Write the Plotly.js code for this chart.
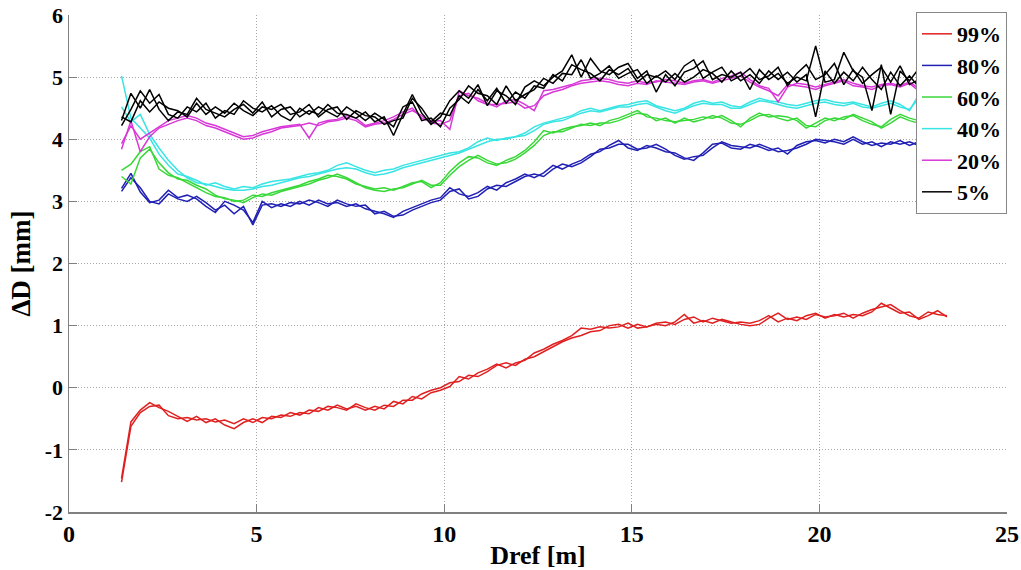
<!DOCTYPE html>
<html>
<head>
<meta charset="utf-8">
<script src="https://cdn.plot.ly/plotly-3.0.1.min.js"></script>
<style>html,body{margin:0;padding:0;background:#fff;}#chart{width:1021px;height:570px;}</style>
</head>
<body>
<div id="chart"></div>
<script>
// Dref sample positions [m]
const dref = [1.40,1.65,1.90,2.15,2.40,2.65,2.90,3.15,3.40,3.65,3.90,4.15,4.40,4.65,4.90,5.15,5.40,5.65,5.90,6.15,6.40,6.65,6.90,7.15,7.40,7.65,7.90,8.15,8.40,8.65,8.90,9.15,9.40,9.65,9.90,10.15,10.40,10.65,10.90,11.15,11.40,11.65,11.90,12.15,12.40,12.65,12.90,13.15,13.40,13.65,13.90,14.15,14.40,14.65,14.90,15.15,15.40,15.65,15.90,16.15,16.40,16.65,16.90,17.15,17.40,17.65,17.90,18.15,18.40,18.65,18.90,19.15,19.40,19.65,19.90,20.15,20.40,20.65,20.90,21.15,21.40,21.65,21.90,22.15,22.40,22.65];
const drefRed = [1.40,1.65,1.90,2.15,2.40,2.65,2.90,3.15,3.40,3.65,3.90,4.15,4.40,4.65,4.90,5.15,5.40,5.65,5.90,6.15,6.40,6.65,6.90,7.15,7.40,7.65,7.90,8.15,8.40,8.65,8.90,9.15,9.40,9.65,9.90,10.15,10.40,10.65,10.90,11.15,11.40,11.65,11.90,12.15,12.40,12.65,12.90,13.15,13.40,13.65,13.90,14.15,14.40,14.65,14.90,15.15,15.40,15.65,15.90,16.15,16.40,16.65,16.90,17.15,17.40,17.65,17.90,18.15,18.40,18.65,18.90,19.15,19.40,19.65,19.90,20.15,20.40,20.65,20.90,21.15,21.40,21.65,21.90,22.15,22.40,22.65,22.90,23.15,23.40];

const seriesNames = ["99%","80%","60%","40%","20%","5%"];

const red99a = [-1.52,-0.62,-0.40,-0.30,-0.28,-0.45,-0.50,-0.48,-0.52,-0.50,-0.55,-0.52,-0.58,-0.50,-0.56,-0.48,-0.50,-0.44,-0.46,-0.40,-0.42,-0.32,-0.36,-0.28,-0.34,-0.30,-0.36,-0.30,-0.34,-0.22,-0.26,-0.14,-0.18,-0.08,-0.04,0.02,0.18,0.14,0.24,0.30,0.38,0.32,0.40,0.44,0.56,0.62,0.70,0.76,0.84,0.96,0.94,0.98,0.96,0.98,1.04,0.96,0.98,1.02,1.00,1.06,1.18,1.04,1.08,1.04,1.10,1.06,1.02,1.00,1.02,1.12,1.20,1.10,1.14,1.10,1.18,1.14,1.16,1.20,1.12,1.20,1.26,1.30,1.34,1.24,1.16,1.12,1.22,1.18,1.16];
const red99b = [-1.46,-0.55,-0.36,-0.24,-0.32,-0.38,-0.46,-0.54,-0.46,-0.56,-0.50,-0.60,-0.66,-0.56,-0.50,-0.56,-0.46,-0.48,-0.40,-0.44,-0.36,-0.38,-0.30,-0.32,-0.36,-0.26,-0.32,-0.36,-0.28,-0.30,-0.20,-0.20,-0.10,-0.04,0.00,0.08,0.10,0.20,0.18,0.26,0.36,0.40,0.36,0.46,0.50,0.58,0.66,0.74,0.80,0.84,0.90,0.92,1.00,1.02,0.96,1.02,0.98,1.04,1.06,1.02,1.10,1.14,1.06,1.12,1.08,1.04,1.06,1.04,1.08,1.16,1.06,1.12,1.08,1.16,1.20,1.12,1.18,1.14,1.18,1.16,1.22,1.36,1.28,1.20,1.22,1.10,1.16,1.24,1.14];

const blue80a = [3.21,3.45,3.15,2.98,3.02,3.18,3.06,3.10,3.04,2.92,2.82,3.00,2.94,2.86,2.66,3.00,2.90,2.96,2.92,3.00,2.94,3.02,2.96,2.98,2.92,2.96,2.88,2.84,2.80,2.74,2.84,2.90,2.96,3.02,3.06,3.22,3.12,3.08,3.14,3.24,3.18,3.30,3.36,3.44,3.38,3.46,3.58,3.52,3.60,3.66,3.76,3.80,3.90,3.98,3.86,3.82,3.90,3.86,3.80,3.78,3.70,3.66,3.78,3.92,3.94,3.86,3.84,3.92,3.88,3.82,3.86,3.76,3.90,3.96,3.98,3.94,4.00,3.96,4.04,3.96,3.90,3.94,3.92,3.98,3.90,3.96];
const blue80b = [3.16,3.38,3.22,3.00,2.96,3.12,3.04,3.00,3.08,2.98,2.86,2.94,2.80,2.92,2.62,2.94,2.96,2.92,2.98,2.96,3.02,2.98,2.92,3.02,2.96,2.92,2.94,2.80,2.84,2.76,2.78,2.86,2.92,2.98,3.02,3.16,3.20,3.04,3.08,3.20,3.26,3.24,3.32,3.40,3.44,3.40,3.52,3.60,3.56,3.62,3.72,3.84,3.86,3.92,3.92,3.84,3.86,3.92,3.84,3.74,3.68,3.72,3.74,3.86,3.96,3.90,3.88,3.86,3.92,3.86,3.80,3.82,3.86,3.92,4.00,3.98,3.96,3.92,4.00,3.92,3.96,3.88,3.96,3.92,3.96,3.90];

const green60a = [3.50,3.60,3.80,3.88,3.52,3.42,3.38,3.30,3.22,3.14,3.08,3.06,3.00,3.02,3.10,3.08,3.14,3.18,3.22,3.26,3.32,3.36,3.42,3.40,3.36,3.28,3.24,3.20,3.22,3.18,3.24,3.30,3.32,3.22,3.30,3.48,3.62,3.72,3.70,3.62,3.58,3.66,3.72,3.82,3.96,4.14,4.10,4.16,4.20,4.22,4.26,4.22,4.30,4.34,4.40,4.46,4.36,4.34,4.30,4.28,4.30,4.32,4.36,4.34,4.38,4.30,4.20,4.34,4.42,4.36,4.38,4.36,4.30,4.18,4.26,4.34,4.30,4.36,4.38,4.30,4.24,4.20,4.32,4.40,4.34,4.30];
const green60b = [3.40,3.28,3.70,3.84,3.62,3.46,3.36,3.34,3.26,3.20,3.10,3.04,3.02,2.98,3.06,3.12,3.10,3.16,3.20,3.24,3.28,3.34,3.38,3.44,3.38,3.30,3.22,3.18,3.16,3.20,3.22,3.28,3.34,3.26,3.26,3.42,3.56,3.66,3.74,3.66,3.60,3.62,3.68,3.78,3.90,4.06,4.12,4.12,4.18,4.24,4.22,4.26,4.26,4.30,4.36,4.42,4.40,4.30,4.34,4.26,4.34,4.28,4.32,4.38,4.34,4.26,4.24,4.30,4.38,4.40,4.34,4.30,4.34,4.22,4.20,4.30,4.34,4.32,4.40,4.34,4.28,4.18,4.26,4.36,4.30,4.26];

const cyan40a = [5.02,4.34,4.18,4.02,3.76,3.58,3.44,3.40,3.34,3.26,3.30,3.24,3.20,3.24,3.22,3.28,3.32,3.34,3.36,3.40,3.44,3.46,3.50,3.58,3.62,3.56,3.50,3.46,3.50,3.52,3.58,3.62,3.66,3.70,3.74,3.78,3.80,3.86,3.96,4.02,3.98,4.02,4.04,4.10,4.20,4.26,4.30,4.34,4.38,4.46,4.50,4.46,4.50,4.54,4.56,4.60,4.62,4.54,4.50,4.46,4.50,4.58,4.62,4.58,4.60,4.54,4.52,4.60,4.66,4.62,4.60,4.56,4.54,4.58,4.62,4.64,4.60,4.58,4.60,4.56,4.52,4.58,4.62,4.56,4.46,4.72];
const cyan40b = [4.52,4.28,4.40,4.08,3.86,3.66,3.50,3.38,3.30,3.28,3.24,3.20,3.18,3.18,3.20,3.24,3.26,3.30,3.34,3.38,3.40,3.44,3.48,3.52,3.54,3.52,3.46,3.42,3.44,3.48,3.54,3.58,3.62,3.66,3.70,3.74,3.78,3.84,3.90,3.96,4.00,4.00,4.04,4.06,4.14,4.24,4.28,4.30,4.36,4.42,4.46,4.44,4.48,4.52,4.52,4.56,4.58,4.52,4.46,4.42,4.48,4.54,4.58,4.56,4.56,4.50,4.50,4.56,4.62,4.60,4.56,4.52,4.50,4.54,4.58,4.60,4.56,4.54,4.58,4.52,4.50,4.54,4.58,4.52,4.48,4.66];

const mag20a = [3.93,4.22,4.00,4.10,4.20,4.30,4.34,4.38,4.34,4.26,4.22,4.16,4.10,4.04,4.06,4.12,4.16,4.20,4.22,4.24,4.02,4.26,4.30,4.32,4.38,4.34,4.22,4.26,4.30,4.36,4.44,4.50,4.34,4.28,4.30,4.16,4.78,4.70,4.66,4.58,4.52,4.62,4.64,4.56,4.46,4.78,4.80,4.84,4.88,4.94,4.96,4.98,4.96,4.92,4.90,4.94,4.90,4.92,4.96,4.94,4.90,4.94,4.96,4.92,4.98,5.02,5.08,4.96,4.86,4.82,4.60,4.84,4.90,4.88,4.84,4.88,4.92,4.96,4.90,4.86,4.84,4.88,4.90,4.86,4.92,4.82];
const mag20b = [3.84,4.30,3.80,4.04,4.18,4.24,4.30,4.34,4.30,4.22,4.18,4.12,4.06,4.00,4.02,4.08,4.12,4.18,4.20,4.22,4.26,4.22,4.28,4.30,4.34,4.30,4.20,4.24,4.26,4.32,4.40,4.46,4.38,4.26,4.24,4.30,4.70,4.74,4.62,4.56,4.56,4.58,4.60,4.50,4.54,4.70,4.76,4.80,4.86,4.90,4.92,4.94,4.92,4.88,4.86,4.90,4.88,4.94,4.92,4.90,4.88,4.92,4.94,4.90,4.94,4.98,5.02,4.92,4.84,4.78,4.70,4.88,4.86,4.84,4.80,4.86,4.90,4.94,4.86,4.84,4.80,4.86,4.88,4.84,4.90,4.78];

const blk5a = [4.30,4.74,4.50,4.80,4.48,4.30,4.44,4.40,4.66,4.48,4.42,4.36,4.48,4.56,4.42,4.60,4.36,4.48,4.52,4.36,4.46,4.40,4.56,4.42,4.40,4.34,4.44,4.28,4.36,4.06,4.40,4.72,4.42,4.24,4.36,4.62,4.78,4.66,4.88,4.54,4.78,4.70,4.56,4.84,4.94,4.86,5.00,5.10,5.36,5.00,5.30,5.10,5.04,5.16,5.22,4.98,5.10,4.76,5.04,4.86,5.08,5.14,5.26,4.96,5.04,5.00,5.08,4.80,5.12,4.96,5.06,4.90,5.00,4.94,5.50,4.92,4.96,5.40,5.10,5.00,4.46,5.20,4.40,5.10,4.94,5.14];
const blk5b = [4.22,4.48,4.78,4.58,4.72,4.40,4.34,4.52,4.44,4.58,4.34,4.46,4.40,4.62,4.50,4.44,4.54,4.38,4.30,4.50,4.40,4.52,4.44,4.36,4.52,4.42,4.30,4.42,4.32,4.20,4.52,4.60,4.30,4.34,4.20,4.50,4.64,4.86,4.74,4.70,4.56,4.86,4.62,4.72,4.80,4.98,4.90,5.06,5.04,5.28,4.98,5.06,5.18,4.98,5.06,5.12,4.90,5.02,4.92,5.06,4.92,5.00,5.12,5.06,4.92,5.10,4.94,5.04,4.90,5.10,4.96,5.08,4.92,5.04,4.36,5.10,4.90,5.08,4.94,5.16,4.96,4.80,5.08,4.86,5.02,4.84];
const blk5c = [4.36,4.28,4.62,4.44,4.60,4.50,4.46,4.36,4.58,4.40,4.52,4.42,4.58,4.46,4.38,4.52,4.48,4.56,4.40,4.44,4.56,4.36,4.48,4.52,4.32,4.46,4.38,4.36,4.24,4.30,4.34,4.66,4.50,4.28,4.42,4.38,4.70,4.58,4.80,4.62,4.82,4.58,4.76,4.66,4.86,4.82,5.04,4.94,5.20,5.12,5.06,4.94,5.12,5.04,5.14,4.92,5.04,5.00,5.10,4.96,5.18,5.28,4.98,5.08,5.16,4.94,5.02,5.14,4.96,5.02,5.16,4.86,5.06,5.20,4.96,5.04,5.22,4.88,5.12,4.90,5.04,5.16,4.92,5.18,4.88,4.96];

const xTicks = [0,5,10,15,20,25];
const yTicks = [-2,-1,0,1,2,3,4,5,6];

const colors = ["#e02020","#2020b4","#38d838","#38e4e4","#d838d8","#000000"];
const groups = [
  {x: drefRed, ys: [red99a, red99b]},
  {x: dref, ys: [blue80a, blue80b]},
  {x: dref, ys: [green60a, green60b]},
  {x: dref, ys: [cyan40a, cyan40b]},
  {x: dref, ys: [mag20a, mag20b]},
  {x: dref, ys: [blk5a, blk5b, blk5c]}
];

const traces = [];
groups.forEach((g, i) => {
  g.ys.forEach((y, j) => {
    traces.push({
      type: "scatter", mode: "lines", x: g.x, y: y,
      name: "<b>" + seriesNames[i] + "</b>", legendgroup: seriesNames[i],
      showlegend: j === 0,
      line: {color: colors[i], width: 1.5},
      hoverinfo: "skip"
    });
  });
});

const serif = "Liberation Serif";
const bold = v => "<b>" + v + "</b>";
const layout = {
  width: 1021, height: 570,
  margin: {l: 69, r: 14, t: 15, b: 58},
  paper_bgcolor: "#ffffff", plot_bgcolor: "#ffffff",
  font: {family: serif, color: "#000", size: 22},
  showlegend: true,
  xaxis: {
    range: [0, 25], tickvals: xTicks, ticktext: xTicks.map(bold),
    showgrid: true, gridcolor: "#a8a8a8", griddash: "1px,2px", gridwidth: 1,
    zeroline: false, showline: true, linecolor: "#808080", linewidth: 1.5,
    ticks: "inside", ticklen: 8, tickcolor: "#808080", tickwidth: 1.2,
    tickfont: {family: serif, size: 24, color: "#000"},
    title: {text: "<b>Dref [m]</b>", font: {family: serif, size: 26, color: "#000"}, standoff: 4}
  },
  yaxis: {
    range: [-2, 6], tickvals: yTicks, ticktext: yTicks.map(bold),
    showgrid: true, gridcolor: "#a8a8a8", griddash: "1px,2px", gridwidth: 1,
    zeroline: false, showline: true, linecolor: "#808080", linewidth: 1.5,
    ticks: "inside", ticklen: 8, tickcolor: "#808080", tickwidth: 1.2,
    tickfont: {family: serif, size: 22, color: "#000"},
    title: {text: "<b>ΔD [mm]</b>", font: {family: serif, size: 27, color: "#000"}, standoff: 6}
  },
  legend: {
    x: 1.0, y: 1.006, xanchor: "right", yanchor: "top",
    bgcolor: "#ffffff", bordercolor: "#888888", borderwidth: 1,
    font: {family: serif, size: 22, color: "#000"},
    itemwidth: 30, tracegroupgap: 0
  }
};

Plotly.newPlot("chart", traces, layout, {staticPlot: true, displayModeBar: false});
</script>
</body>
</html>
